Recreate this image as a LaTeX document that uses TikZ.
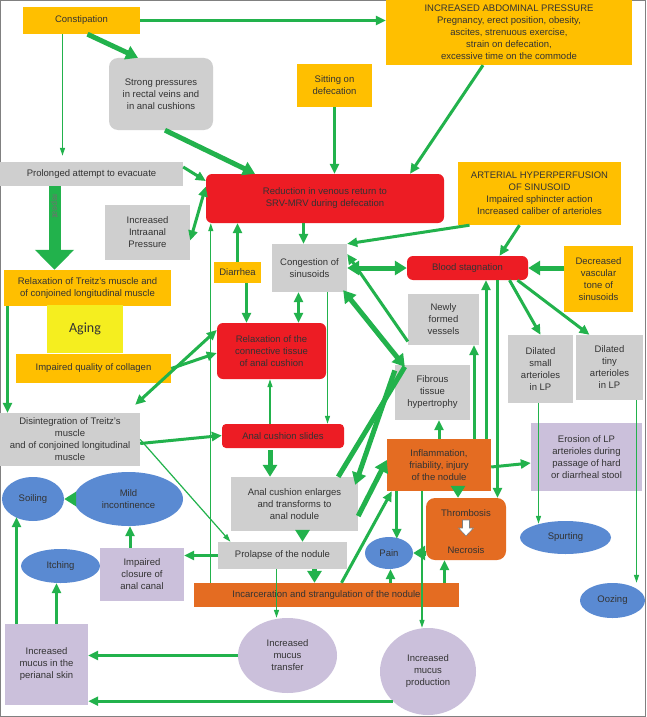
\documentclass[tikz,border=0pt]{standalone}
\usepackage{fontspec}
\setmainfont{Liberation Sans}
\newfontfamily\agingfont{Carlito}
\usetikzlibrary{arrows.meta,shapes.geometric,calc}
\definecolor{oy}{HTML}{FFBF00}
\definecolor{rd}{HTML}{ED1C24}
\definecolor{gy}{HTML}{CFCFCF}
\definecolor{dor}{HTML}{E46C22}
\definecolor{bl}{HTML}{5A8AD2}
\definecolor{li}{HTML}{CBC0DB}
\definecolor{gr}{HTML}{22B24C}
\definecolor{ye}{HTML}{F5EE1F}
\definecolor{tx}{HTML}{333333}
\begin{document}
\begin{tikzpicture}[x=1pt,y=-1pt,
  every node/.style={font=\fontsize{9.5}{12}\selectfont,text=tx,align=center,inner sep=1pt},
  bx/.style={rectangle,minimum width=#1},
  org/.style={fill=oy},
  gry/.style={fill=gy},
  red/.style={fill=rd,rounded corners=6pt},
  dor/.style={fill=dor},
  lil/.style={fill=li},
  ell/.style={ellipse,fill=bl,inner sep=0pt},
  lell/.style={ellipse,fill=li,inner sep=0pt},
  ga/.style={draw=gr,line width=1.2pt,-{Triangle[length=8pt,width=5pt]}},
  gb/.style={draw=gr,line width=3pt,-{Triangle[length=10pt,width=9pt]}},
  gc/.style={draw=gr,line width=5pt,-{Triangle[length=12pt,width=14pt]}},
  gbb/.style={draw=gr,line width=3pt,{Triangle[length=10pt,width=9pt]}-{Triangle[length=10pt,width=9pt]}},
  gcc/.style={draw=gr,line width=5pt,{Triangle[length=12pt,width=14pt]}-{Triangle[length=12pt,width=14pt]}},
]
\useasboundingbox (0,0) rectangle (646,717);
\fill[white] (0,0) rectangle (646,717);
\draw[gray,line width=1pt] (0.5,0.5) rectangle (645.5,716.5);
% nodes
\node[org,minimum width=117,minimum height=27] (constip) at (81.5,20.5) {Constipation};
\node[org,minimum width=246,minimum height=65] (abd) at (509,32.5) {INCREASED ABDOMINAL PRESSURE\\Pregnancy, erect position, obesity,\\ascites, strenuous exercise,\\strain on defecation,\\excessive time on the commode};
\node[gry,rounded corners=9pt,minimum width=104,minimum height=72] (strong) at (161,94) {Strong pressures\\in rectal veins and\\in anal cushions};
\node[org,minimum width=75,minimum height=43] (sit) at (334.5,85.5) {Sitting on\\defecation};
\node[gry,minimum width=183,minimum height=24] (prolong) at (91.5,174) {Prolonged attempt to evacuate};
\node[red,minimum width=238,minimum height=49] (reduce) at (325,198.5) {Reduction in venous return to\\SRV-MRV during defecation};
\node[org,minimum width=163,minimum height=63] (arterial) at (539.5,193.5) {ARTERIAL HYPERPERFUSION\\OF SINUSOID\\Impaired sphincter action\\Increased caliber of arterioles};
\node[gry,minimum width=85,minimum height=55] (intra) at (147.5,232.5) {Increased\\Intraanal\\Pressure};
\node[gry,minimum width=75,minimum height=48] (cong) at (309.5,268) {Congestion of\\sinusoids};
\node[org,minimum width=47,minimum height=21] (diar) at (237.5,272.5) {Diarrhea};
\node[red,minimum width=121,minimum height=24] (blood) at (467.5,268) {Blood stagnation};
\node[org,minimum width=69,minimum height=66] (decr) at (598.5,279) {Decreased\\vascular\\tone of\\sinusoids};
\node[org,minimum width=167,minimum height=36] (treitz) at (87.5,288) {Relaxation of Treitz's muscle and\\of conjoined longitudinal muscle};
\node[fill=ye,minimum width=76,minimum height=48,font=\agingfont\fontsize{14}{16}\selectfont] (aging) at (85,329) {Aging};
\node[org,minimum width=155,minimum height=29] (collagen) at (93.5,368.5) {Impaired quality of collagen};
\node[gry,minimum width=71,minimum height=51] (newly) at (443.5,319.5) {Newly\\formed\\vessels};
\node[gry,minimum width=65,minimum height=68] (dsmall) at (540.5,369) {Dilated\\small\\arterioles\\in LP};
\node[gry,minimum width=67,minimum height=65] (dtiny) at (609.5,367.5) {Dilated\\tiny\\arterioles\\in LP};
\node[red,minimum width=109,minimum height=56] (conn) at (271.5,351) {Relaxation of the\\connective tissue\\of anal cushion};
\node[gry,minimum width=75,minimum height=55] (fibrous) at (432.5,392.5) {Fibrous\\tissue\\hypertrophy};
\node[gry,minimum width=140,minimum height=53] (disint) at (70,439.5) {Disintegration of Treitz's\\muscle\\and of conjoined longitudinal\\muscle};
\node[red,rounded corners=4pt,minimum width=122,minimum height=24] (slides) at (283,436) {Anal cushion slides};
\node[dor,minimum width=104,minimum height=52] (inflam) at (439,465) {Inflammation,\\friability, injury\\of the nodule};
\node[lil,minimum width=111,minimum height=68] (erosion) at (586.5,457) {Erosion of LP\\arterioles during\\passage of hard\\or diarrheal stool};
\node[gry,minimum width=127,minimum height=54] (enlarge) at (294.5,504) {Anal cushion enlarges\\and transforms to\\anal nodule};
\node[ell,minimum width=62,minimum height=44] (soil) at (33,499) {Soiling};
\node[ell,minimum width=109,minimum height=54] (mild) at (128.5,499) {Mild\\incontinence};
\node[dor,rounded corners=9pt,minimum width=80,minimum height=62] (thromb) at (466,529) {};
\node at ($(thromb.center)+(0,-16)$) (thtext) {Thrombosis};
\node at ($(thromb.center)+(0,21)$) (netext) {Necrosis};
\draw[fill=white,draw=gray,line width=0.6pt] ($(thromb.center)+(-3.5,-9)$) -- ++(7,0) -- ++(0,8) -- ++(4,0) -- ++(-7.5,8) -- ++(-7.5,-8) -- ++(4,0) -- cycle;
\node[ell,minimum width=91,minimum height=33] (spurt) at (565.5,537.5) {Spurting};
\node[ell,minimum width=48,minimum height=32] (pain) at (389,553) {Pain};
\node[gry,minimum width=129,minimum height=27] (prolapse) at (282.5,555.5) {Prolapse of the nodule};
\node[ell,minimum width=79,minimum height=34] (itch) at (60.5,566) {Itching};
\node[lil,minimum width=84,minimum height=53] (closure) at (142,574.5) {Impaired\\closure of\\anal canal};
\node[dor,minimum width=265,minimum height=24] (incar) at (326.5,595) {Incarceration and strangulation of the nodule};
\node[ell,minimum width=65,minimum height=35] (ooze) at (612.5,600.5) {Oozing};
\node[lil,minimum width=83,minimum height=81] (perianal) at (46.5,664.5) {Increased\\mucus in the\\perianal skin};
\node[lell,minimum width=99,minimum height=75] (transfer) at (287.5,655.5) {Increased\\mucus\\transfer};
\node[lell,minimum width=96,minimum height=87] (produce) at (428,671.5) {Increased\\mucus\\production};
% connectors
\draw[gb] (constip.east) -- (constip.east -| abd.west);
\draw[gc] ([xshift=6]constip.south) -- ([xshift=-23]strong.north);
\draw[ga] ([xshift=-19]constip.south) -- ($([xshift=-29]prolong.north)+(0,-6)$);
\draw[gc] ([xshift=4]strong.south) -- ([xshift=-70]reduce.north);
\draw[gb] (sit.south) -- (sit.south |- reduce.north);
\draw[gb] ([xshift=-26]abd.south) -- ([xshift=85]reduce.north);
\draw[gb] ([yshift=7]prolong.east) -- ($(prolong.east -| reduce.west)+(0,7)$);
\draw[draw=gr,line width=12pt,-{Triangle[length=20pt,width=38pt]}] ([xshift=-37]prolong.south) -- ([xshift=-33]treitz.north);
\node[rotate=-90,font=\fontsize{8.5}{10}\selectfont,text=tx!70] (rep) at ($(prolong.south)+(-37,20)$) {repeat};
\draw[gbb] ([yshift=-8]intra.east) -- ([yshift=12]reduce.west);
\draw[gb] (diar.north) -- (diar.north |- reduce.south);
\draw[gb] ([xshift=9]diar.south) -- ($(diar.south |- conn.north)+(9,0)$);
\draw[gb] ($(cong.north |- reduce.south)+(-6,0)$) -- ([xshift=-6]cong.north);
\draw[gb] ([xshift=-70]arterial.south) -- (cong.north east);
\draw[gb] ([xshift=-20]arterial.south) -- ([xshift=32]blood.north);
\draw[gcc] (cong.east) -- (blood.west);
\draw[gc] (decr.west |- blood.east) -- (blood.east);
\draw[gb] ([yshift=-22]newly.west) -- ([yshift=14]cong.east);
\draw[gbb] ([xshift=-11]cong.south) -- ($(cong.south |- conn.north)+(-11,0)$);
\draw[ga] ([xshift=18]cong.south) -- ($(cong.south |- slides.north)+(18,0)$);
\draw[ga] ($(incar.north west)+(17,0)$) -- ($(incar.north west |- reduce.south)+(17,0)$);
\coordinate (jn) at ($(fibrous.north west)+(10,2)$);
\draw[draw=gr,line width=5pt] ([xshift=-20]enlarge.north east) -- (jn);
\draw[gcc] ([xshift=-4,yshift=2]cong.south east) -- (jn);
\draw[gc] ([yshift=22]fibrous.west) -- ([xshift=-3,yshift=-8]enlarge.north east);
\draw[gb] (inflam.north) -- (inflam.north |- fibrous.south);
\draw[gb] ($(inflam.north)+(35,0)$) -- ($(inflam.north |- newly.south)+(35,0)$);
\draw[gb] ($(inflam.north)+(47,0)$) -- ($(inflam.north |- blood.south)+(47,0)$);
\draw[gb] ($(blood.south)+(30,0)$) -- ($(blood.south |- thromb.north)+(30,0)$);
\draw[gb] ($(blood.south)+(42,0)$) -- (dsmall.north);
\draw[gb] ($(blood.south)+(50,0)$) -- ([xshift=-20]dtiny.north);
\draw[ga] ($(dsmall.south)+(-2,0)$) -- ($(dsmall.south |- spurt.north)+(-2,3)$);
\draw[ga] ($(dtiny.south)+(27,0)$) -- ($(dtiny.south |- ooze.north)+(27,0)$);
\draw[gb] ([yshift=-2]inflam.east) -- ($(inflam.east -| erosion.west)+(0,-2)$);
\draw[gb] ([xshift=-80]treitz.south) -- ($(treitz.south |- disint.north)+(-80,0)$);
\draw[gb] (collagen.east) -- ([yshift=-2]conn.west);
\draw[gbb] ([xshift=-5,yshift=8]disint.north east) -- ([yshift=21]conn.west);
\draw[gb] ([yshift=-4]disint.east) -- ($(disint.east -| slides.west)+(0,-4)$);
\draw[ga] (disint.east) -- ([xshift=-52]prolapse.north);
\draw[ga] ($(slides.north)+(-13,0)$) -- ($(slides.north |- conn.south)+(-13,0)$);
\draw[gc] ($(slides.south)+(-13,2)$) -- ($(slides.south |- enlarge.north)+(-13,0)$);
\draw[gc] ([yshift=-12]enlarge.east) -- ([yshift=5]inflam.west);
\draw[gc] ($(enlarge.south)+(8,0)$) -- ($(enlarge.south |- prolapse.north)+(8,0)$);
\draw[gb] (prolapse.west) -- (prolapse.west -| closure.east);
\draw[gc] ($(prolapse.south)+(32,0)$) -- ($(prolapse.south |- incar.north)+(32,0)$);
\draw[gb] ($(incar.north)+(15,0)$) -- ([xshift=5]inflam.south west);
\draw[gb] ($(inflam.south west)+(10,0)$) -- ($(inflam.south west |- pain.north)+(10,2)$);
\draw[gb] ($(incar.north)+(64,0)$) -- ($(incar.north |- pain.south)+(64,0)$);
\draw[gb] ($(incar.north)+(118,0)$) -- ($(incar.north |- thromb.south)+(118,0)$);
\draw[gc] (thromb.west |- pain.east) -- (pain.east);
\draw[gc] ($(inflam.south)+(19,-4)$) -- ($(inflam.south |- thromb.north)+(19,0)$);
\draw[ga] ($(prolapse.south)+(-6,0)$) -- ($(prolapse.south |- transfer.north)+(-6,0)$);
\draw[ga] ($(inflam.south)+(-17,0)$) -- ($(inflam.south |- produce.north)+(-17,0)$);
\draw[gb] (transfer.west) -- (transfer.west -| perianal.east);
\draw[gb] (produce.220) -- (produce.220 -| perianal.east);
\draw[gb] ($(perianal.north)+(-30,0)$) -- ($(perianal.north |- soil.south)+(-30,-4)$);
\draw[gb] ($(perianal.north)+(10,0)$) -- ($(perianal.north |- itch.south)+(10,0)$);
\draw[gb] ($(closure.north)+(-12,0)$) -- ($(closure.north |- mild.south)+(-12,0)$);
\draw[gc] (mild.west) -- (mild.west -| soil.east);
\end{tikzpicture}
\end{document}
